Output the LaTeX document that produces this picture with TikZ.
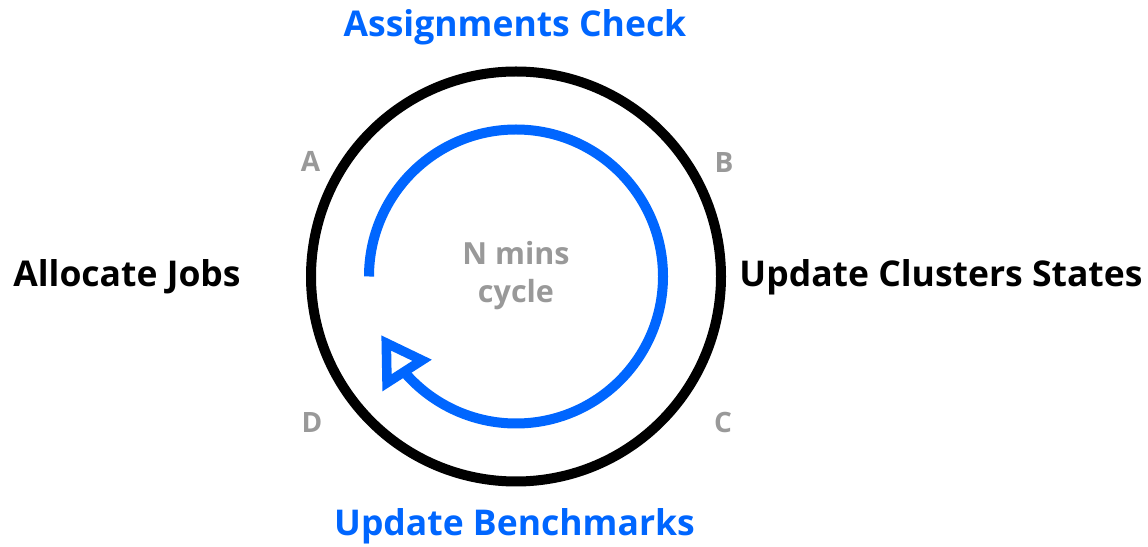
\documentclass[tikz,border=0pt]{standalone}
\usepackage{fontspec}
\setmainfont{Open Sans}
\usetikzlibrary{arrows.meta,bending}
\definecolor{cycblue}{RGB}{0,102,255}
\definecolor{lblgrey}{RGB}{153,153,153}
\tikzset{>={Triangle[open,length=48pt,width=56pt,line width=9.5pt,flex]}}
\tikzset{
  phase/.style={font=\bfseries\fontsize{35.5}{40}\selectfont, anchor=base, inner sep=0pt},
  corner/.style={font=\bfseries\fontsize{28}{32}\selectfont, text=lblgrey, anchor=base, inner sep=0pt},
  inner/.style={font=\bfseries\fontsize{30.5}{36}\selectfont, text=lblgrey, anchor=base, inner sep=0pt}
}

\begin{document}
\begin{tikzpicture}[x=1pt,y=1pt]
        \useasboundingbox (0, 0) rectangle (1148, 546);
        \coordinate (c) at (516, 269.5);
        \draw [line width=10pt] (c) circle (205);
        \draw [line width=10pt, cycblue, ->] ([shift={(180:147)}]c) arc [start angle=180, end angle=-156.5, radius=147];
        % phases of the cycle
        \node [phase, text=cycblue] (check) at (515, 509) {Assignments Check};
        \node [phase] (update) at (941, 259) {Update Clusters States};
        \node [phase, text=cycblue] (bench) at (514.5, 11) {Update Benchmarks};
        \node [phase] (alloc) at (127, 259) {Allocate Jobs};
        \node [inner] (nmins) at (516, 281) {N mins};
        \node [inner] (cycle) at (516, 243) {cycle};
        \node [corner] (ptA) at (310.5, 374) {A};
        \node [corner] (ptB) at (724, 373) {B};
        \node [corner] (ptC) at (723, 113) {C};
        \node [corner] (ptD) at (312, 113) {D};
      \end{tikzpicture}
\end{document}
